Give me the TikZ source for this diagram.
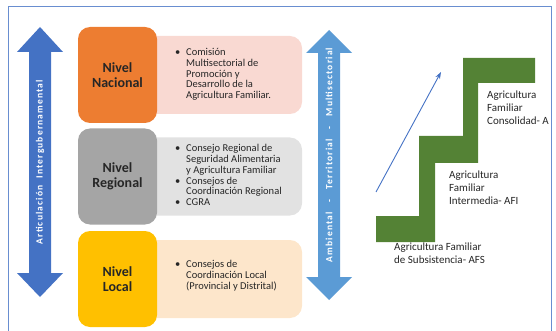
\documentclass[tikz,border=0pt]{standalone}
\usepackage{fontspec}
\setmainfont{Carlito}
\usetikzlibrary{arrows.meta}

\definecolor{naranja}{HTML}{ED7D31}
\definecolor{rosa}{HTML}{F9D9D2}
\definecolor{gris}{HTML}{A5A5A5}
\definecolor{grisclaro}{HTML}{E2E2E2}
\definecolor{amarillo}{HTML}{FFC000}
\definecolor{crema}{HTML}{FDE6CB}
\definecolor{azul}{HTML}{4472C4}
\definecolor{celeste}{HTML}{5B9BD5}
\definecolor{verde}{HTML}{548235}
\definecolor{texto}{HTML}{262626}

\newcommand{\vin}{\makebox[11pt][l]{\textbullet}}

\tikzset{
  nivel/.style={rounded corners=12pt, minimum width=79pt, minimum height=96pt,
    inner sep=0pt, align=center, text=texto,
    font=\bfseries\fontsize{14}{15.5}\selectfont},
  info/.style={rounded corners=12pt, minimum width=162pt, minimum height=78pt, inner sep=0pt},
  lista/.style={anchor=west, inner sep=0pt, text=texto, font=\fontsize{10.5}{10.8}\selectfont},
  escalon/.style={anchor=north west, inner sep=0pt, align=left, text=texto,
    font=\fontsize{11}{13}\selectfont},
  eje/.style={rotate=90, inner sep=0pt, text=white,
    font=\bfseries\fontsize{9.5}{10}\selectfont\addfontfeature{LetterSpace=12}}
}

\begin{document}
\begin{tikzpicture}[x=1pt,y=-1pt]
   \useasboundingbox (0,0) rectangle (556,331);
   \clip (0,0) rectangle (556,331);
   \draw[azul!80, line width=1pt] (8,7) rectangle (551,345);

   % flechas dobles
   \fill[azul] (40,27) -- (63,52) -- (51,52) -- (51,273) -- (63,273) -- (40,297)
      -- (17,273) -- (29,273) -- (29,52) -- (17,52) -- cycle;
   \node[eje] (intergub) at (40,162) {Articulación\hspace{7pt}Intergubernamental};
   \fill[celeste] (329,30) -- (352,53) -- (340,53) -- (340,277) -- (352,277) -- (329,300)
      -- (306,277) -- (318,277) -- (318,53) -- (306,53) -- cycle;
   \node[eje] (multisect) at (329,155) {Ambiental\hspace{10pt}-\hspace{10pt}Territorial\hspace{10pt}-\hspace{10pt}Multisectorial};

   % niveles
   \node[info, fill=rosa] (nacinfo) at (221,75) {};
   \node[info, fill=grisclaro] (reginfo) at (221,176.5) {};
   \node[info, fill=crema] (locinfo) at (221,279) {};
   \node[nivel, fill=naranja] (nacional) at (117.5,75) {Nivel\\Nacional};
   \node[nivel, fill=gris] (regional) at (117.5,176.5) {Nivel\\Regional};
   \node[nivel, fill=amarillo] (local) at (117.5,279) {Nivel\\Local};

   \node[lista] (naclista) at (175,75) {\begin{tabular}{@{}l@{}l@{}}
      \vin & Comisión\\ & Multisectorial de\\ & Promoción y\\ & Desarrollo de la\\ & Agricultura Familiar.
      \end{tabular}};
   \node[lista] (reglista) at (175,176.5) {\begin{tabular}{@{}l@{}l@{}}
      \vin & Consejo Regional de\\ & Seguridad Alimentaria\\ & y Agricultura Familiar\\
      \vin & Consejos de\\ & Coordinación Regional\\ \vin & CGRA
      \end{tabular}};
   \node[lista] (loclista) at (175,276) {\begin{tabular}{@{}l@{}l@{}}
      \vin & Consejos de\\ & Coordinación Local\\ & (Provincial y Distrital)
      \end{tabular}};

   % escalera
   \fill[verde] (535,58) -- (463,58) -- (463,136) -- (419,136) -- (419,216) -- (376,216)
      -- (376,242) -- (435,242) -- (435,163) -- (478,163) -- (478,83) -- (535,83) -- cycle;
   \coordinate (subeini) at (376,192);
   \coordinate (subefin) at (441,72);
   \draw[azul, line width=0.9pt, -{Stealth[length=7pt,width=5pt]}] (subeini) -- (subefin);

   \node[escalon] (afc) at (487,91) {Agricultura\\Familiar\\Consolidad- A};
   \node[escalon] (afi) at (449,171) {Agricultura\\Familiar\\Intermedia- AFI};
   \node[escalon] (afs) at (394,243) {Agricultura Familiar\\de Subsistencia- AFS};
\end{tikzpicture}
\end{document}
